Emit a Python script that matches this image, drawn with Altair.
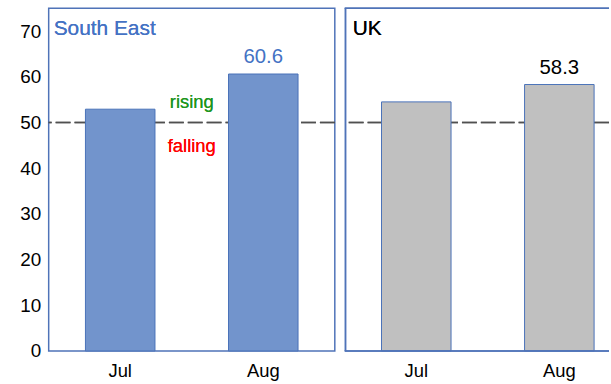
import altair as alt
import pandas as pd

# Survey index readings (50 = no change)
months = ["Jul", "Aug"]
south_east = [52.9, 60.6]
uk = [54.5, 58.3]
panel_names = ["South East", "UK"]
threshold = 50
zone_labels = ["rising", "falling"]
y_ticks = [0, 10, 20, 30, 40, 50, 60, 70]

FONT = "Liberation Sans"
BLUE_FILL = "#7294CC"
BLUE_LINE = "#4A72B8"
FRAME = "#4F73B8"
TITLE_BLUE = "#4472C4"
GREY_FILL = "#C0C0C0"

PANEL_W = 288
PANEL_H = 345
CUT_W = 266

y_scale = alt.Scale(domain=[0, 75], nice=False, zero=True)


def panel(name, values, fill, text_color, show_axis, annotate, width):
    df = pd.DataFrame({"month": months, "value": values})

    if width < PANEL_W:
        # the right-hand panel runs past the page edge: shift the bands so
        # they sit where they would in a full-width panel
        step = PANEL_W / 2
        inner = 0.514
        outer = ((width / step) - (2 - inner)) / 2
        free = width - step * (2 - inner)
        align = (step * 0.257) / free
        x_scale = alt.Scale(paddingInner=inner, paddingOuter=outer, align=align)
    else:
        x_scale = alt.Scale(paddingInner=0.514, paddingOuter=0.257)
    x = alt.X(
        "month:N",
        sort=months,
        title=None,
        scale=x_scale,
        axis=alt.Axis(labelAngle=0, ticks=False, domain=False, grid=False,
                      labelFontSize=18.5, labelPadding=11, labelColor="black",
                      labelFont=FONT),
    )
    if show_axis:
        y_axis = alt.Axis(values=y_ticks, ticks=False, domain=False, grid=False,
                          labelFontSize=19, labelPadding=8, minExtent=43,
                          labelColor="black", labelFont=FONT)
    else:
        y_axis = None

    y_ref = alt.YDatum(threshold, scale=y_scale, axis=y_axis, title=None)
    y_val = alt.Y("value:Q", scale=y_scale, axis=y_axis, title=None)

    rule = alt.Chart(df).mark_rule(
        color="#505050", strokeDash=[15, 4], strokeWidth=1.5
    ).encode(y=y_ref)

    bars = alt.Chart(df).mark_bar(
        fill=fill, stroke=BLUE_LINE, strokeWidth=1
    ).encode(x=x, y=y_val)

    value_label = alt.Chart(df).transform_filter(
        alt.datum.month == "Aug"
    ).mark_text(
        baseline="alphabetic", dy=-11, fontSize=20.5, color=text_color, font=FONT
    ).encode(x=x, y=y_val, text=alt.Text("value:Q", format=".1f"))

    title = alt.Chart(df).mark_text(
        align="left", baseline="alphabetic", fontSize=21, color=text_color, font=FONT
    ).encode(x=alt.value(5 if show_axis else 8), y=alt.value(27), text=alt.value(name))

    layers = [rule, bars, value_label, title]

    if annotate:
        rising = alt.Chart(df).mark_text(
            baseline="alphabetic", dy=-14.7, fontSize=18.5, color="#1E961E", font=FONT
        ).encode(x=alt.value(PANEL_W / 2), y=y_ref, text=alt.value(zone_labels[0]))
        falling = alt.Chart(df).mark_text(
            baseline="alphabetic", dy=30, fontSize=18.5, color="#FF0000", font=FONT
        ).encode(x=alt.value(PANEL_W / 2), y=y_ref, text=alt.value(zone_labels[1]))
        layers += [rising, falling]

    props = dict(width=width, height=PANEL_H)
    if width < PANEL_W:
        # open-ended frame: left, top and bottom edges only
        edge = alt.Chart(df).mark_rule(color=FRAME, strokeWidth=1.5)
        layers += [
            edge.encode(x=alt.value(0.75)),
            edge.encode(y=alt.value(0)),
            edge.encode(y=alt.value(PANEL_H)),
        ]
        props["view"] = alt.ViewBackground(stroke="transparent")

    return alt.layer(*layers).properties(**props)


left = panel(panel_names[0], south_east, BLUE_FILL, TITLE_BLUE, True, True, PANEL_W)
right = panel(panel_names[1], uk, GREY_FILL, "black", False, False, CUT_W)

chart = alt.hconcat(left, right, spacing=6).properties(
    padding={"left": 5, "top": 5, "right": 0, "bottom": 0},
    background="white",
).configure(font=FONT).configure_view(stroke=FRAME, strokeWidth=1.5)

chart.save("out.html", embed_options={"renderer": "svg", "actions": False})
